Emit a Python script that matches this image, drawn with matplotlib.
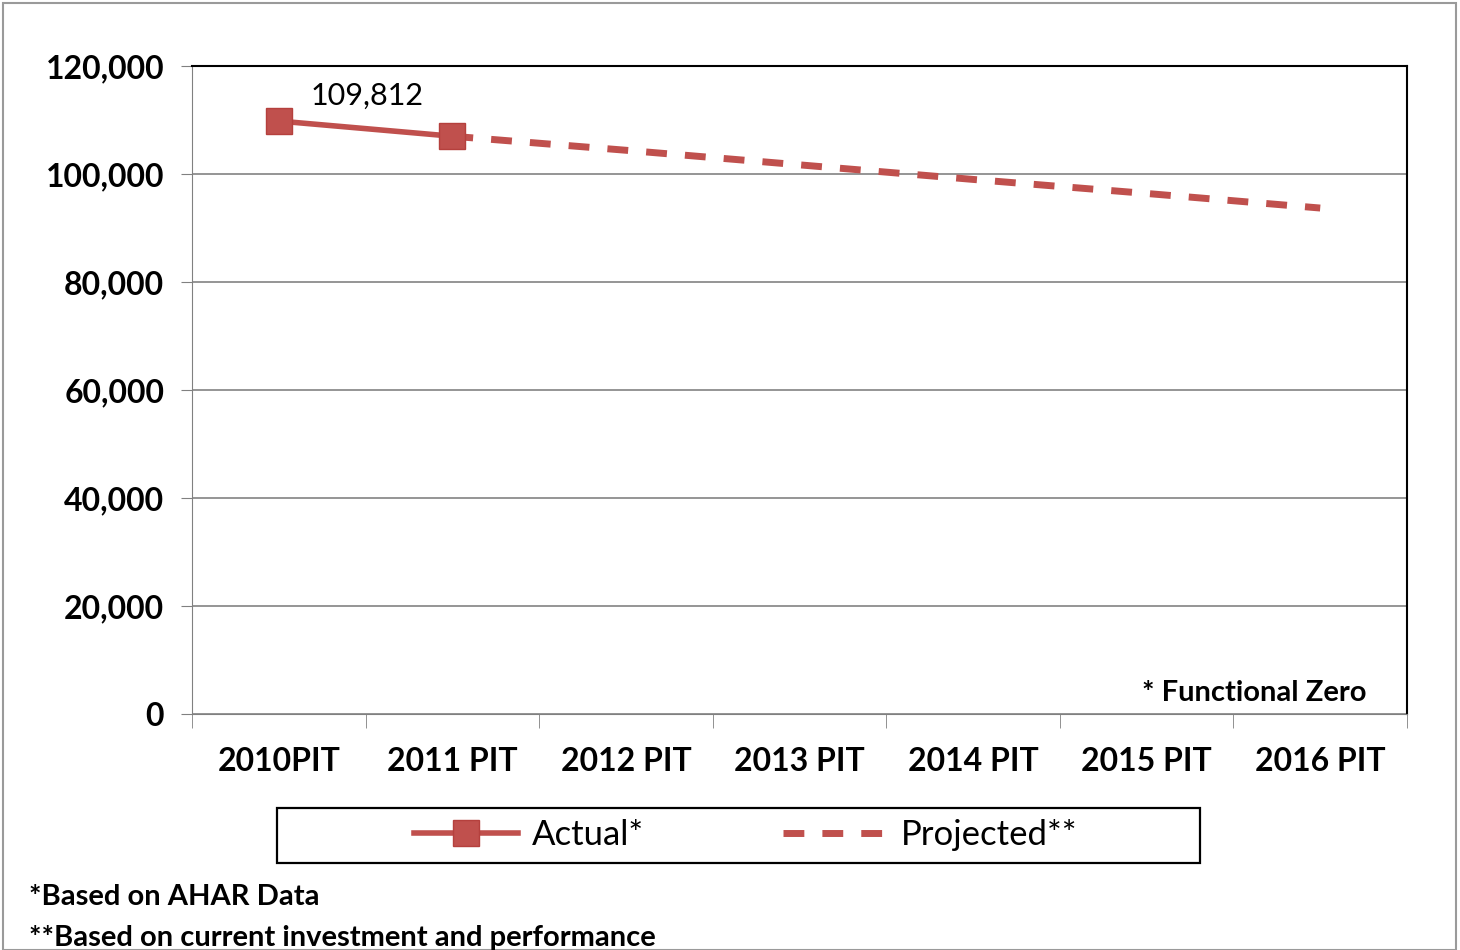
import matplotlib
matplotlib.use('Agg')
import matplotlib.pyplot as plt
from matplotlib.patches import Rectangle
from matplotlib.ticker import FuncFormatter, MultipleLocator

plt.rcParams['font.family'] = ['Lato', 'DejaVu Sans']

years = ['2010PIT', '2011 PIT', '2012 PIT', '2013 PIT', '2014 PIT', '2015 PIT', '2016 PIT']
actual = [109812, 107000]
projected = [107000, 104400, 101700, 99000, 96400, 93700]
red = '#c0504d'

fig = plt.figure(figsize=(14.6, 9.5), dpi=100)
ax = fig.add_axes([0.1315, 0.2484, 0.8322, 0.6821])

ax.plot(range(1, 7), projected, color=red, lw=5, ls=(0, (3.0, 2.6)), label='Projected**', zorder=3)
ax.plot(range(0, 2), actual, color=red, lw=4, marker='s', markersize=19,
        markeredgecolor='#b5403d', label='Actual*', zorder=4)
ax.annotate('{:,}'.format(actual[0]), (0, actual[0]), xytext=(23, 18), textcoords='offset points',
            fontsize=22, va='center', ha='left')

ax.set_xlim(-0.5, 6.5)
ax.set_ylim(0, 120000)
ax.yaxis.set_major_locator(MultipleLocator(20000))
ax.yaxis.set_major_formatter(FuncFormatter(lambda v, p: '{:,.0f}'.format(v)))
ax.set_xticks(range(7))
ax.set_xticklabels(years, fontweight='bold', fontsize=23)
ax.set_xticks([i + 0.5 for i in range(-1, 7)], minor=True)
ax.tick_params(axis='x', which='major', length=0, pad=24)
ax.tick_params(axis='x', which='minor', length=10, color='#808080', direction='out')
ax.tick_params(axis='y', labelsize=23, length=8, color='#808080', pad=12)
for lab in ax.get_yticklabels():
    lab.set_fontweight('bold')
ax.grid(axis='y', color='#8c8c8c', lw=1.3)
ax.set_axisbelow(True)
ax.spines['left'].set_color('#808080')
ax.spines['bottom'].set_color('#808080')
for s in ['top', 'right']:
    ax.spines[s].set_color('black')
    ax.spines[s].set_linewidth(1.5)

ax.text(0.967, 0.012, '* Functional Zero', transform=ax.transAxes, ha='right', va='bottom',
        fontsize=21, fontweight='bold')

# legend frame drawn separately so it can be wider than its entries
fig.patches.append(Rectangle((277 / 1460, 1 - 863 / 950), 923 / 1460, 55 / 950,
                             transform=fig.transFigure, fill=False, edgecolor='black', lw=1.6))
handles, labels = ax.get_legend_handles_labels()
fig.legend(handles[::-1], labels[::-1], loc='center', bbox_to_anchor=(0.511, 0.121),
           ncol=2, fontsize=25, frameon=False, columnspacing=4.0, handlelength=3.0,
           handletextpad=0.4, borderaxespad=0)

fig.text(0.02, 0.056, '*Based on AHAR Data', fontsize=21, fontweight='bold', va='center')
fig.text(0.02, 0.013, '**Based on current investment and performance', fontsize=21,
         fontweight='bold', va='center')

fig.patches.append(Rectangle((0.002, 0.0), 0.995, 0.997, transform=fig.transFigure,
                             fill=False, edgecolor='#9a9a9a', lw=1.5))

fig.savefig('out.png', dpi=100)
